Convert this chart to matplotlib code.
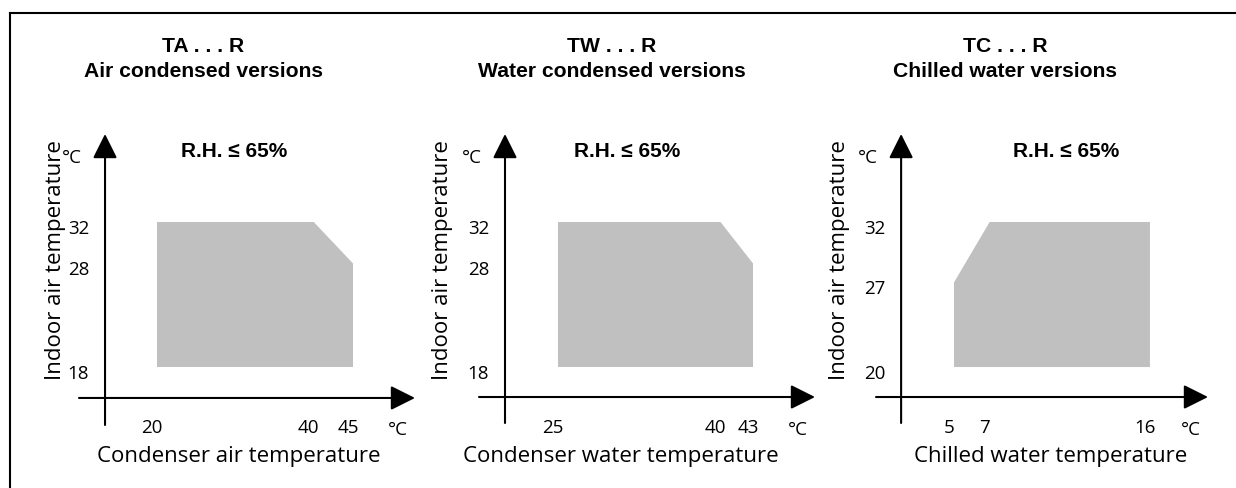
import matplotlib
matplotlib.use("Agg")
from matplotlib import pyplot as plt
from matplotlib.lines import Line2D
from matplotlib.transforms import ScaledTranslation

# operating limits of the three unit families
titles = ["TA . . . R", "TW . . . R", "TC . . . R"]
subtitles = ["Air condensed versions", "Water condensed versions", "Chilled water versions"]
xlabels = ["Condenser air temperature", "Condenser water temperature", "Chilled water temperature"]
ylabel = "Indoor air temperature"
rh_note = "R.H. \u2264 65%"
unit = "\u00b0C"

# envelope corners: x = condenser / chilled water temp, y = indoor air temp
ta_x = [20, 45, 45, 40, 20]
ta_y = [18, 18, 28, 32, 32]
tw_x = [25, 43, 43, 40, 25]
tw_y = [18, 18, 28, 32, 32]
tc_x = [5, 16, 16, 7, 5]
tc_y = [20, 20, 32, 32, 27]

env_x = [ta_x, tw_x, tc_x]
env_y = [ta_y, tw_y, tc_y]

# layout, in pixels of the 1236x488 picture (box = left, top, right, bottom)
W, H, DPI = 1236, 488, 100
layout = [
    dict(box=(79, 134, 415, 425), xlim=(10.05, 52.91), ylim=(12.40, 40.50), cross=(13.37, 15.01),
         title_x=203, rh_x=234, xlab_x=239, ylab_x=56),
    dict(box=(479, 134, 815, 423), xlim=(17.71, 48.72), ylim=(12.59, 40.50), cross=(20.11, 15.10),
         title_x=612, rh_x=627, xlab_x=621, ylab_x=442),
    dict(box=(876, 134, 1208, 423), xlim=(0.62, 19.26), ylim=(15.37, 39.28), cross=(2.03, 17.52),
         title_x=1005, rh_x=1066, xlab_x=1051, ylab_x=840),
]

plt.rcParams['font.family'] = ['Open Sans', 'DejaVu Sans']
bold_font = ['Liberation Sans', 'DejaVu Sans']

fig = plt.figure(figsize=(W / DPI, H / DPI), dpi=DPI)


def fx(px):
    return px / W


def fy(py):
    return 1 - py / H


# frame - only the left and top edges are in the picture
fig.add_artist(Line2D([fx(10), fx(10)], [fy(13), 0], color='k', lw=1.5))
fig.add_artist(Line2D([fx(10), 1], [fy(13), fy(13)], color='k', lw=1.5))

arrow = dict(arrowstyle='-|>,head_length=1.0,head_width=0.5', color='k', lw=1.5,
             mutation_scale=15, shrinkA=0, shrinkB=0)

for i, lay in enumerate(layout):
    l, t, r, b = lay['box']
    ax = fig.add_axes([fx(l), fy(b), (r - l) / W, (b - t) / H])
    ax.set_xlim(lay['xlim'])
    ax.set_ylim(lay['ylim'])
    ax.patch.set_visible(False)

    ax.fill(env_x[i], env_y[i], color='#c0c0c0', lw=0)

    xc, yc = lay['cross']
    x0, x1 = lay['xlim']
    y0, y1 = lay['ylim']
    ax.annotate('', xy=(x1, yc), xytext=(x0, yc), arrowprops=arrow, annotation_clip=False)
    ax.annotate('', xy=(xc, y1), xytext=(xc, y0), arrowprops=arrow, annotation_clip=False)

    for s in ax.spines.values():
        s.set_visible(False)
    ax.spines['left'].set_position(('data', xc))
    ax.spines['bottom'].set_position(('data', yc))

    xt = sorted(set(env_x[i]))
    yt = sorted(set(env_y[i]))
    ax.set_xticks(xt, [str(v) for v in xt])
    ax.set_yticks(yt, [str(v) for v in yt])
    ax.tick_params(length=0, labelsize=13.5)
    ax.tick_params(axis='x', pad=15.5)
    ax.tick_params(axis='y', pad=11.5)
    for lbl in ax.get_xticklabels():
        lbl.set_transform(lbl.get_transform() + ScaledTranslation(-5 / DPI, 0, fig.dpi_scale_trans))
    for lbl in ax.get_yticklabels():
        lbl.set_transform(lbl.get_transform() + ScaledTranslation(0, -5 / DPI, fig.dpi_scale_trans))

    # unit marks next to the arrow heads
    yax_px = l + (xc - x0) / (x1 - x0) * (r - l)
    fig.text(fx(yax_px - 33), fy(158), unit, fontsize=13.5, ha='center', va='center')
    fig.text(fx(r - 17), fy(430), unit, fontsize=13.5, ha='center', va='center')

    # headings and axis names
    fig.text(fx(lay['title_x']), fy(51.5), titles[i], fontsize=15.2, fontweight='bold',
             family=bold_font, ha='center', va='baseline')
    fig.text(fx(lay['title_x']), fy(77.3), subtitles[i], fontsize=15.2, fontweight='bold',
             family=bold_font, ha='center', va='baseline')
    fig.text(fx(lay['rh_x']), fy(156.7), rh_note, fontsize=15, fontweight='bold',
             family=bold_font, ha='center', va='baseline')
    fig.text(fx(lay['xlab_x']), fy(462), xlabels[i], fontsize=16, ha='center', va='baseline')
    fig.text(fx(lay['ylab_x']), fy(260), ylabel, fontsize=16, rotation=90, ha='center', va='center')

fig.savefig('out.png', dpi=DPI)
